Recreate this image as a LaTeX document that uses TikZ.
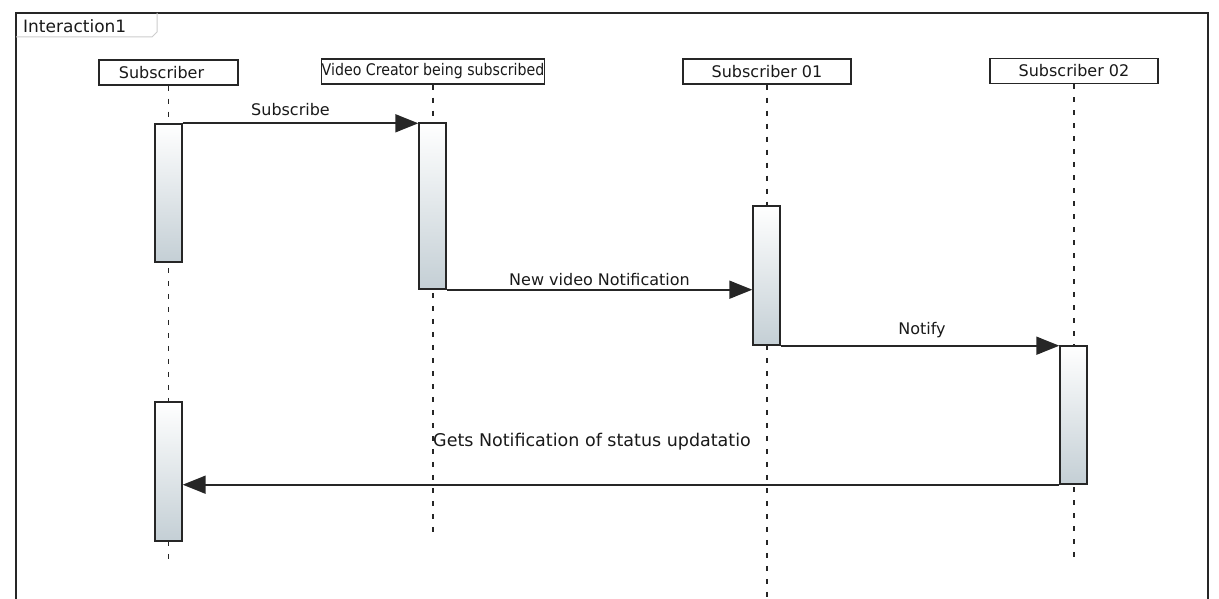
\documentclass[tikz,border=0pt]{standalone}
\usepackage{fontspec}
\setmainfont{DejaVu Sans}
\usetikzlibrary{arrows.meta}
\definecolor{inkgray}{RGB}{38,38,38}
\definecolor{tabgray}{RGB}{205,205,205}
\definecolor{actbottom}{RGB}{196,207,213}
\begin{document}
\begin{tikzpicture}[
    x=1pt, y=-1pt,
    head/.style={
        rectangle,
        draw=inkgray,
        line width=1.5pt,
        fill=white,
        minimum height=25pt,
        inner sep=0pt,
        text=black!90,
        font=\fontsize{16}{19}\selectfont
    },
    act/.style={
        rectangle,
        draw=inkgray,
        line width=1.4pt,
        top color=white,
        bottom color=actbottom,
        minimum width=27pt,
        inner sep=0pt
    },
    life/.style={dash pattern=on 5pt off 8pt, line width=1.3pt, inkgray},
    msg/.style={-{Triangle[length=23pt,width=18pt]}, line width=1.8pt, inkgray},
    lbl/.style={inner sep=0pt, text=black!90, font=\fontsize{16}{19}\selectfont},
    frame/.style={line width=1.5pt, inkgray},
    tab/.style={line width=1pt, tabgray}
]
\useasboundingbox (0,0) rectangle (1219,599);

% frame
\draw[frame] (16,605) -- (16,13) -- (1208,13) -- (1208,605);
\draw[tab] (16,37) -- (152,37) -- (157,32) -- (157,13);
\node[lbl, anchor=base west, font=\fontsize{17}{20}\selectfont] (title) at (23,33) {Interaction1};

% lifeline heads
\node[head, minimum width=139pt] (sub) at (168.5,72.5) {\hspace*{-14pt}Subscriber};
\node[head, minimum width=222pt] (vc) at (433,71.5) {\scalebox{0.885}[1]{Video Creator being subscribed}};
\node[head, minimum width=168pt] (s01) at (767,71.5) {\raisebox{-1pt}{Subscriber 01}};
\node[head, minimum width=168pt] (s02) at (1074,71) {\raisebox{2pt}{Subscriber 02}};

\coordinate (subend) at (168.5,562);
\coordinate (vcend) at (433,533);
\coordinate (s01end) at (767,605);
\coordinate (s02end) at (1074,560);

\draw[life] (sub) -- (subend);
\draw[life] (vc) -- (vcend);
\draw[life] (s01) -- (s01end);
\draw[life] (s02) -- (s02end);

% activations
\node[act, minimum height=138pt] (a1) at (168.5,193) {};
\node[act, minimum height=166pt] (a2) at (432.5,206) {};
\node[act, minimum height=139pt] (a3) at (766.5,275.5) {};
\node[act, minimum height=138pt] (a4) at (1073.5,415) {};
\node[act, minimum height=139pt] (a5) at (168.5,471.5) {};

% messages
\draw[msg] (a1.north east) -- (a1.north east -| a2.west)
    node[lbl, midway, above=7pt, xshift=-10pt] {Subscribe};
\draw[msg] (a2.south east) -- (a2.south east -| a3.west)
    node[lbl, midway, above=3pt] {New video Notification};
\draw[msg] (a3.south east) -- (a3.south east -| a4.west)
    node[lbl, midway, above=7pt, xshift=2pt] {Notify};
\draw[msg] (a4.south west) -- (a4.south west -| a5.east);
\node[lbl, anchor=base west, font=\fontsize{17.5}{20}\selectfont] (gets) at (433,446) {Gets Notification of status updatatio};

\end{tikzpicture}
\end{document}
